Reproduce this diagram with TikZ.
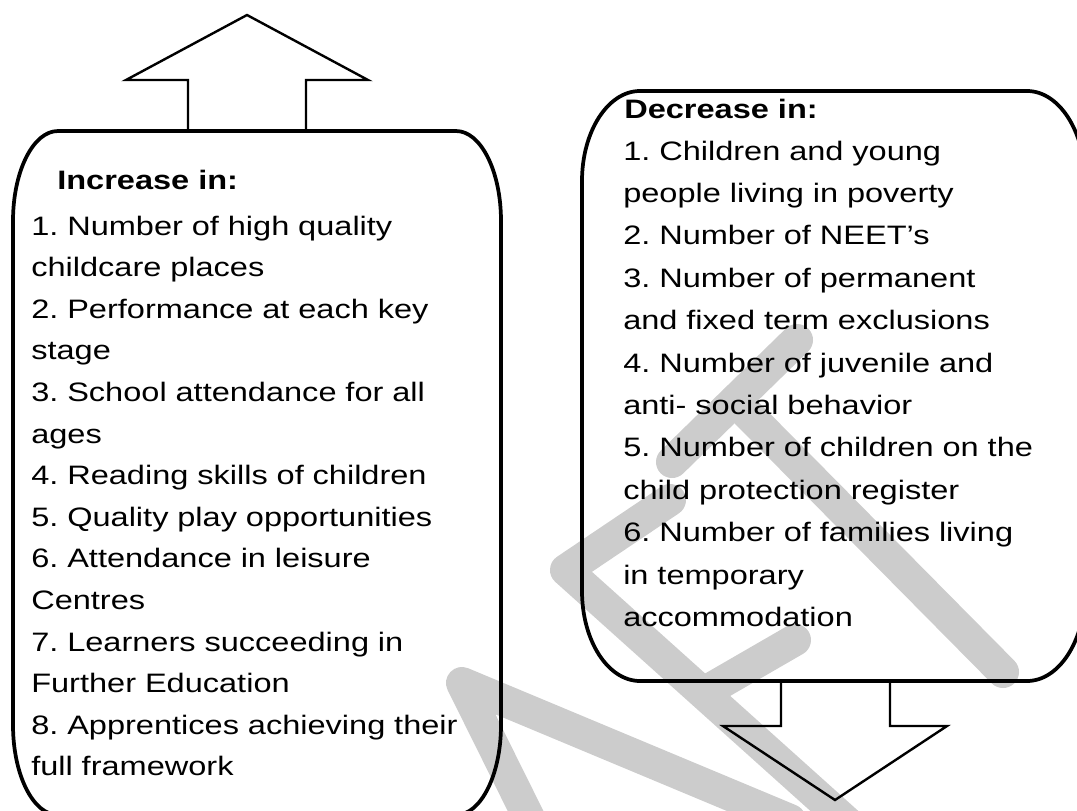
\documentclass[tikz,border=0pt]{standalone}
\usepackage{fontspec}
\setmainfont{Liberation Sans}[FakeStretch=1.22]
\frenchspacing
\usetikzlibrary{positioning}
\tikzstyle{frame} = [draw, line width=2.8pt, line join=round]
\tikzstyle{blockarrow} = [draw, line width=1.8pt, line join=miter]
\tikzstyle{wmstroke} = [draw=black!20, line width=24pt, line cap=round, line join=round]
\tikzstyle{head} = [inner sep=0pt, anchor=base west, font=\fontsize{20}{24}\selectfont\bfseries]
\tikzstyle{listtext} = [inner sep=0pt, align=left, text width=360pt, anchor=base west]

\begin{document}
\begin{tikzpicture}[x=0.75pt,y=-0.75pt]
	\useasboundingbox (0,0) rectangle (1077,810);
	\clip (0,0) rectangle (1077,810);

	% watermark strokes, behind everything
	\draw [wmstroke] (790,820) -- (462,683) -- (535,830);
	\draw [wmstroke] (670,500) -- (566,570) -- (850,825);
	\draw [wmstroke] (705,692) -- (795,640);
	\draw [wmstroke] (672,462) -- (797,340);
	\draw [wmstroke] (735,401) -- (1003,672);

	% the two boxes
	\draw [frame] (58,131) -- (456,131)
		arc[start angle=-90,end angle=0,x radius=45,y radius=90] -- (501,725)
		arc[start angle=0,end angle=90,x radius=45,y radius=90] -- (58,815)
		arc[start angle=90,end angle=180,x radius=45,y radius=90] -- (13,221)
		arc[start angle=180,end angle=270,x radius=45,y radius=90];
	\draw [frame] (640,91) -- (1027,91)
		arc[start angle=-90,end angle=0,x radius=58,y radius=90] -- (1085,591)
		arc[start angle=0,end angle=90,x radius=58,y radius=90] -- (640,681)
		arc[start angle=90,end angle=180,x radius=58,y radius=90] -- (582,181)
		arc[start angle=180,end angle=270,x radius=58,y radius=90];

	% block arrows
	\draw [blockarrow] (188,131) -- (188,80) -- (126,80) -- (247,15) -- (368,80) -- (306,80) -- (306,131);
	\draw [blockarrow] (781,681) -- (781,726) -- (723,726) -- (835,800) -- (947,726) -- (890,726) -- (890,681);

	% texts
	\node [head] (inchead) at (57,189) {Increase in:};
	\node [listtext,font=\fontsize{20}{31.2}\selectfont] (inclist) at (31,235) {1. Number of high quality\\
		childcare places\\
		2. Performance at each key\\
		stage\\
		3. School attendance for all\\
		ages\\
		4. Reading skills of children\\
		5. Quality play opportunities\\
		6. Attendance in leisure\\
		Centres\\
		7. Learners succeeding in\\
		Further Education\\
		8. Apprentices achieving their\\
		full framework};
	\node [head] (dechead) at (624,118) {Decrease in:};
	\node [listtext,font=\fontsize{20}{31.8}\selectfont] (declist) at (623,160) {1. Children and young\\
		people living in poverty\\
		2. Number of NEET’s\\
		3. Number of permanent\\
		and fixed term exclusions\\
		4. Number of juvenile and\\
		anti- social behavior\\
		5. Number of children on the\\
		child protection register\\
		6. Number of families living\\
		in temporary\\
		accommodation};
\end{tikzpicture}
\end{document}
